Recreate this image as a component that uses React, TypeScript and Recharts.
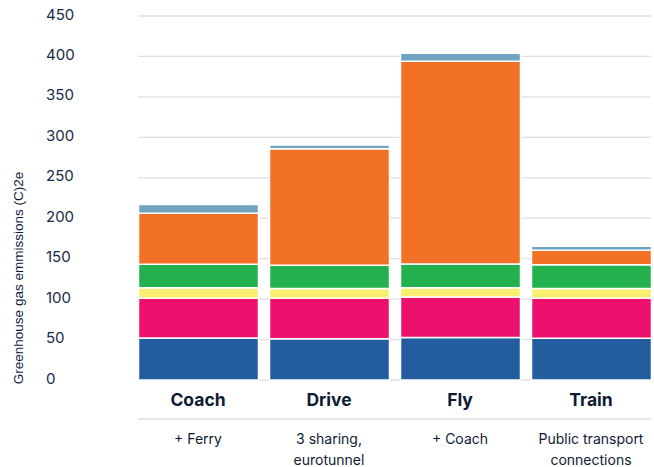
import React from 'react';
import { BarChart, Bar, XAxis, YAxis, CartesianGrid } from 'recharts';

// travel modes and their notes under the axis
const modes = ['Coach', 'Drive', 'Fly', 'Train'];
const notes = [['+ Ferry'], ['3 sharing,', 'eurotunnel'], ['+ Coach'], ['Public transport', 'connections']];

// stacked segments, bottom to top
const seg1 = [52, 51, 52.5, 51.5];
const seg2 = [49, 50, 50, 49.5];
const seg3 = [13, 12, 11.5, 12];
const seg4 = [29, 29, 29.5, 29.5];
const seg5 = [63, 144, 250.5, 18];
const seg6 = [11, 4.5, 10, 5];

const yTicks = [0, 50, 100, 150, 200, 250, 300, 350, 400, 450];

const segColors = ['#245d9f', '#ee106d', '#f8ef70', '#22b14c', '#f37027', '#6fa4c2'];

const data = modes.map((mode, i) => ({
  mode,
  s1: seg1[i],
  s2: seg2[i],
  s3: seg3[i],
  s4: seg4[i],
  s5: seg5[i],
  s6: seg6[i],
}));

const FONT = 'Inter, "Noto Sans", sans-serif';
const INK = '#0e1b35';

const YTick = (props: any) => {
  const { y, payload } = props;
  return (
    <text x={46} y={y + 3.5} textAnchor="start" fontFamily={FONT} fontSize={15} fill="#1c2a45">
      {payload.value}
    </text>
  );
};

const ModeTick = (props: any) => {
  const { x, y, payload } = props;
  return (
    <text x={x} y={y + 26} textAnchor="middle" fontFamily={FONT} fontSize={17.5} fontWeight={700} fill={INK}>
      {payload.value}
    </text>
  );
};

// note under each mode, plus the thin divider above it
const NoteTick = (props: any) => {
  const { x, y, index, visibleTicksCount } = props;
  const lines = notes[index] || [];
  const left = index === 0 ? x - 60 : x - 65.5;
  const right = index === visibleTicksCount - 1 ? x + 60 : x + 65.5;
  return (
    <g>
      <line x1={left} x2={right} y1={y} y2={y} stroke="#dedede" strokeWidth={1.6} />
      <text x={x} y={y + 24.5} textAnchor="middle" fontFamily={FONT} fontSize={14} fill={INK}>
        {lines.map((l, k) => (
          <tspan key={k} x={x} dy={k === 0 ? 0 : 21}>
            {l}
          </tspan>
        ))}
      </text>
    </g>
  );
};

export default function App() {
  return (
    <div style={{ position: 'absolute', left: 0, top: 0 }}>
      <BarChart
        width={654}
        height={467}
        data={data}
        margin={{ top: 16, right: 3, left: 0, bottom: 0 }}
        barSize={120}
      >
        <CartesianGrid horizontal vertical={false} stroke="#e0e0e0" strokeWidth={1.3} />
        <XAxis
          xAxisId="mode"
          dataKey="mode"
          height={39}
          axisLine={false}
          tickLine={false}
          tickSize={0}
          tickMargin={0}
          padding={{ left: -5.5, right: -5.5 }}
          tick={<ModeTick />}
          interval={0}
        />
        <XAxis
          xAxisId="note"
          dataKey="mode"
          height={48}
          axisLine={false}
          tickLine={false}
          tickSize={0}
          tickMargin={0}
          padding={{ left: -5.5, right: -5.5 }}
          tick={<NoteTick />}
          interval={0}
        />
        <YAxis
          width={138}
          domain={[0, 450]}
          ticks={yTicks}
          axisLine={false}
          tickLine={false}
          tick={<YTick />}
          label={() => (
            <text
              x={22.5}
              y={278}
              transform="rotate(-90, 22.5, 278)"
              textAnchor="middle"
              fontFamily='"Liberation Sans", Arial, sans-serif'
              fontSize={13.5}
              fill={INK}
            >
              Greenhouse gas emmissions (C)2e
            </text>
          )}
        />
        {['s1', 's2', 's3', 's4', 's5', 's6'].map((key, i) => (
          <Bar
            key={key}
            xAxisId="mode"
            dataKey={key}
            stackId="a"
            fill={segColors[i]}
            stroke="#ffffff"
            strokeWidth={1.5}
            isAnimationActive={false}
          />
        ))}
      </BarChart>
    </div>
  );
}
